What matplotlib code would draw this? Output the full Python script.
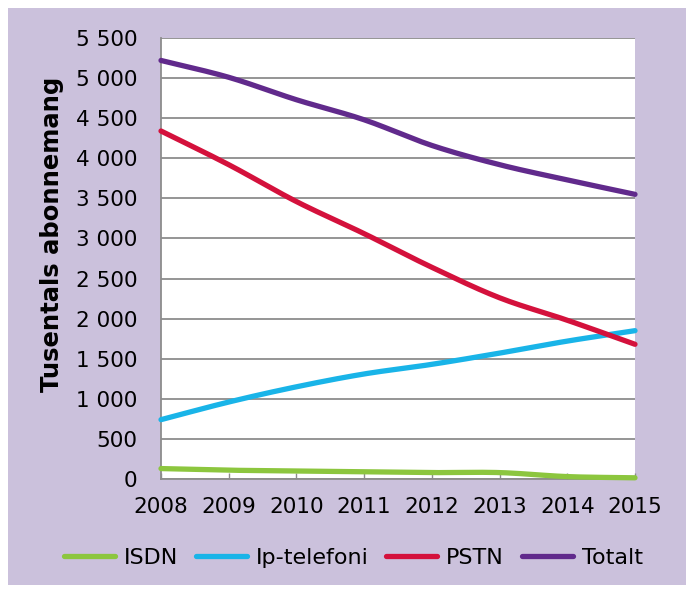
#!/usr/bin/env python3
"""Fixed telephony subscriptions 2008-2015, Excel-style smoothed lines."""

import matplotlib
matplotlib.use("Agg")
import matplotlib.pyplot as plt
import numpy as np
from matplotlib.patches import Rectangle
from matplotlib.ticker import FuncFormatter, MultipleLocator

# ------------------------------- data ---------------------------------------
years = [2008, 2009, 2010, 2011, 2012, 2013, 2014, 2015]
isdn = [130, 110, 100, 90, 80, 80, 30, 15]
ip_telefoni = [740, 960, 1150, 1310, 1430, 1570, 1720, 1850]
pstn = [4340, 3920, 3460, 3060, 2640, 2260, 1980, 1680]
totalt = [5220, 5010, 4730, 4480, 4160, 3920, 3730, 3550]

series = [
    ("ISDN", isdn, "#8cc63e"),
    ("Ip-telefoni", ip_telefoni, "#19b4e8"),
    ("PSTN", pstn, "#d4113c"),
    ("Totalt", totalt, "#612a8c"),
]

BG = "#cbc1dc"


def smooth(x, y, n=20):
    """Catmull-Rom rendering of a polyline (like Excel's smoothed line)."""
    x = np.asarray(x, float)
    y = np.asarray(y, float)
    px = np.concatenate([[2 * x[0] - x[1]], x, [2 * x[-1] - x[-2]]])
    py = np.concatenate([[2 * y[0] - y[1]], y, [2 * y[-1] - y[-2]]])
    t = np.linspace(0, 1, n, endpoint=False)
    xs, ys = [], []
    for i in range(1, len(px) - 2):
        for p, out in ((px, xs), (py, ys)):
            p0, p1, p2, p3 = p[i - 1], p[i], p[i + 1], p[i + 2]
            out.extend(0.5 * (2 * p1 + (-p0 + p2) * t
                              + (2 * p0 - 5 * p1 + 4 * p2 - p3) * t ** 2
                              + (-p0 + 3 * p1 - 3 * p2 + p3) * t ** 3))
    xs.append(x[-1])
    ys.append(y[-1])
    return np.array(xs), np.array(ys)


plt.rcParams["font.family"] = ["DejaVu Sans"]
FS = 15.5

fig = plt.figure(figsize=(6.86, 5.89), dpi=100, facecolor="white")
fig.patches.append(Rectangle((8 / 686, 1 - 585 / 589), 678 / 686, 577 / 589,
                             transform=fig.transFigure, facecolor=BG,
                             edgecolor="none", zorder=-5))

ax = fig.add_axes([161 / 686, 1 - 479 / 589, 474 / 686, 441 / 589])
ax.set_facecolor("white")

for name, vals, color in series:
    sx, sy = smooth(years, vals)
    ax.plot(sx, sy, color=color, lw=3.8, label=name,
            solid_capstyle="round", clip_on=False, zorder=3)

ax.set_xlim(2008, 2015)
ax.set_ylim(0, 5500)
ax.yaxis.set_major_locator(MultipleLocator(500))
ax.set_xticks(years)
ax.yaxis.set_major_formatter(FuncFormatter(lambda v, _: f"{int(v):,}".replace(",", " ")))
ax.grid(axis="y", color="#8c8c8c", lw=1.3)
ax.set_axisbelow(True)

for s in ("top", "right"):
    ax.spines[s].set_visible(False)
for s in ("left", "bottom"):
    ax.spines[s].set_color("#8c8c8c")
    ax.spines[s].set_linewidth(1.3)

ax.tick_params(axis="y", length=0, pad=17, labelsize=FS, labelcolor="black")
ax.tick_params(axis="x", direction="in", length=4, width=1, color="#8c8c8c",
               pad=13, labelsize=FS)

ax.set_ylabel("Tusentals abonnemang", fontsize=17.5, fontweight="bold")
ax.yaxis.set_label_coords(-0.205, 0.555)

fig.legend(loc="center", bbox_to_anchor=(0.515, 1 - 558 / 589), ncol=4,
           frameon=False, fontsize=16, handlelength=2.3, handletextpad=0.4,
           columnspacing=0.8)

fig.savefig("out.png", dpi=100, facecolor=fig.get_facecolor())
